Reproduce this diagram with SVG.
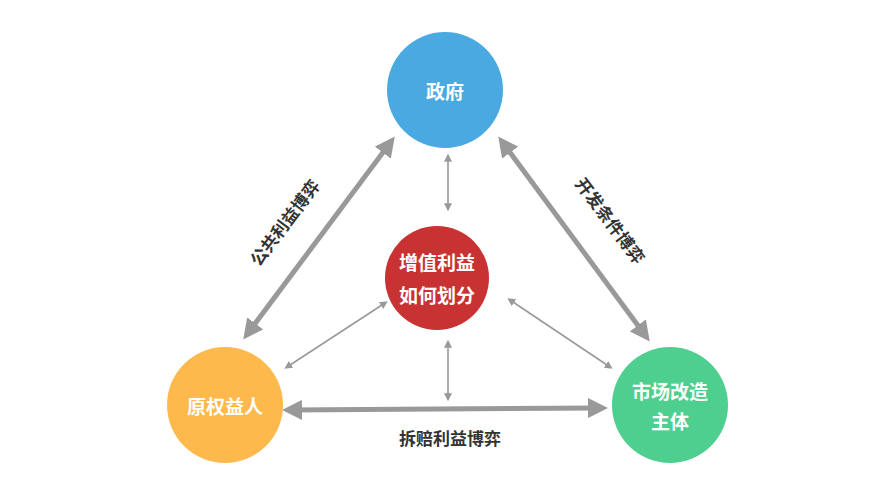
<svg xmlns="http://www.w3.org/2000/svg" width="889" height="500" viewBox="0 0 889 500">
<style>
text{font-family:"Noto Sans CJK SC","Noto Sans",sans-serif;text-anchor:middle;dominant-baseline:central}
.w{fill:#fff;font-size:19px;font-weight:bold}
.l{fill:#333;font-size:17px;font-weight:bold}
.thick{stroke:#999;stroke-width:5;fill:none;marker-start:url(#big);marker-end:url(#big)}
.thin{stroke:#999;stroke-width:1.6;fill:none;marker-start:url(#sm);marker-end:url(#sm)}
</style>
<defs>
<marker id="big" viewBox="0 0 10 10" refX="6" refY="5" markerWidth="4" markerHeight="4" orient="auto-start-reverse" markerUnits="strokeWidth"><path d="M0,0 L10,5 L0,10 z" fill="#999"/></marker>
<marker id="sm" viewBox="0 0 10 10" refX="6" refY="5" markerWidth="5" markerHeight="5" orient="auto-start-reverse" markerUnits="strokeWidth"><path d="M0,0 L10,5 L0,10 z" fill="#999"/></marker>
</defs>
<rect width="889" height="500" fill="#fff"/>
<g id="connectors">
<line class="thick" x1="248" y1="333" x2="390" y2="143"/>
<line class="thick" x1="503" y1="143" x2="645" y2="335"/>
<line class="thick" x1="290" y1="410" x2="600" y2="408"/>
<line class="thin" x1="448" y1="157" x2="448" y2="208"/>
<line class="thin" x1="448" y1="343" x2="448" y2="398"/>
<line class="thin" x1="287" y1="367" x2="385" y2="303"/>
<line class="thin" x1="510" y1="300" x2="610" y2="367"/>
<text class="l" transform="translate(284,222) rotate(-53)">公共利益博弈</text>
<text class="l" transform="translate(611,220) rotate(53)">开发条件博弈</text>
<text class="l" x="450" y="437">拆赔利益博弈</text>
</g>
<g id="gov"><circle cx="445" cy="90" r="58" fill="#4aa9e0"/><text class="w" x="445" y="90">政府</text></g>
<g id="center"><circle cx="437" cy="278" r="52" fill="#c83232"/><text class="w" x="437" y="261">增值利益</text><text class="w" x="437" y="294">如何划分</text></g>
<g id="owner"><circle cx="225" cy="405" r="58" fill="#fdb94b"/><text class="w" x="225" y="405">原权益人</text></g>
<g id="market"><circle cx="670" cy="405" r="58" fill="#4fcf8f"/><text class="w" x="670" y="390">市场改造</text><text class="w" x="670" y="420">主体</text></g>
</svg>
